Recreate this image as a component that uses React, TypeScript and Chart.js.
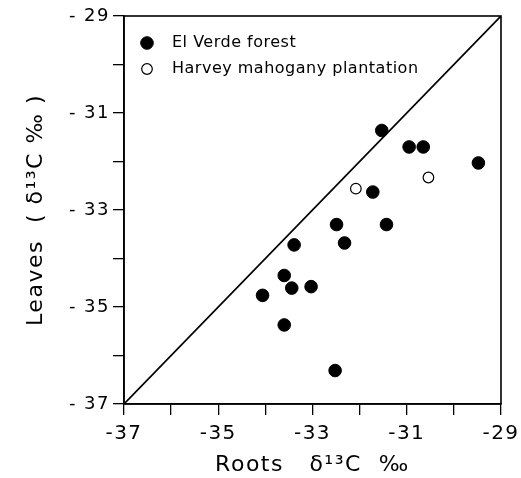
import React, { useEffect, useRef } from "react";
import { Chart, registerables } from "chart.js";
Chart.register(...registerables);

// El Verde forest (filled circles): roots vs leaves δ13C ‰
const elVerdeRoots = [-31.53, -30.95, -30.65, -29.48, -31.72, -32.49, -31.43, -33.39, -32.32, -33.6, -33.44, -33.03, -34.06, -33.6, -32.52];
const elVerdeLeaves = [-31.36, -31.7, -31.7, -32.03, -32.63, -33.3, -33.3, -33.72, -33.68, -34.35, -34.61, -34.58, -34.76, -35.37, -36.31];
// Harvey mahogany plantation (open circles)
const harveyRoots = [-32.08, -30.54];
const harveyLeaves = [-32.56, -32.33];
// 1:1 line
const oneToOne = [-37, -29];
// axes
const tickValues = [-37, -36, -35, -34, -33, -32, -31, -30, -29];
const labeledTicks = [-37, -35, -33, -31, -29];
const seriesLabels = ["El Verde forest", "Harvey mahogany plantation"];
const xTitle = "Roots   δ¹³C  ‰";
const yTitle = "Leaves  ( δ¹³C ‰ )";

const FONT = "'DejaVu Sans', sans-serif";

export default function App() {
  const ref = useRef<HTMLCanvasElement | null>(null);
  useEffect(() => {
    document.body.style.margin = "0";
    const canvas = ref.current!;
    const spacing = {
      id: "spacing",
      beforeDraw(chart: any) {
        (chart.ctx as any).letterSpacing = "1.5px";
      },
    };
    const frame = {
      id: "frame",
      afterDraw(chart: any) {
        const { ctx, chartArea: a } = chart;
        ctx.save();
        ctx.strokeStyle = "#000";
        ctx.lineWidth = 1.6;
        ctx.strokeRect(a.left, a.top, a.right - a.left, a.bottom - a.top);
        ctx.restore();
      },
    };
    const legend = {
      id: "customLegend",
      afterDraw(chart: any) {
        const { ctx, chartArea: a } = chart;
        ctx.save();
        (ctx as any).letterSpacing = "0.5px";
        ctx.font = `16px ${FONT}`;
        ctx.textBaseline = "middle";
        ctx.textAlign = "left";
        const ds = chart.data.datasets;
        [0, 1].forEach((i) => {
          const d = ds[i];
          const cx = a.left + 23;
          const cy = a.top + 27 + i * 26;
          ctx.beginPath();
          ctx.arc(cx, cy, d.pointRadius, 0, Math.PI * 2);
          ctx.fillStyle = d.pointBackgroundColor;
          ctx.fill();
          ctx.lineWidth = d.pointBorderWidth;
          ctx.strokeStyle = "#000";
          ctx.stroke();
          ctx.fillStyle = "#000";
          ctx.fillText(d.label, a.left + 48, cy);
        });
        ctx.restore();
      },
    };
    const chart = new Chart(canvas, {
      type: "scatter",
      data: {
        datasets: [
          {
            label: seriesLabels[0],
            data: elVerdeRoots.map((x, i) => ({ x, y: elVerdeLeaves[i] })),
            pointRadius: 6.3,
            pointBackgroundColor: "#000",
            pointBorderColor: "#000",
            pointBorderWidth: 1,
          },
          {
            label: seriesLabels[1],
            data: harveyRoots.map((x, i) => ({ x, y: harveyLeaves[i] })),
            pointRadius: 5.3,
            pointBackgroundColor: "#fff",
            pointBorderColor: "#000",
            pointBorderWidth: 1.2,
          },
          {
            label: "1:1",
            data: oneToOne.map((v) => ({ x: v, y: v })),
            showLine: true,
            pointRadius: 0,
            borderColor: "#000",
            borderWidth: 1.7,
          },
        ],
      } as any,
      options: {
        animation: false,
        responsive: false,
        devicePixelRatio: 1,
        layout: { padding: { top: 16, right: 20, left: 0, bottom: 0 } },
        plugins: { legend: { display: false }, tooltip: { enabled: false } },
        scales: {
          x: {
            type: "linear",
            min: -37,
            max: -29,
            afterBuildTicks: (s: any) => {
              s.ticks = tickValues.map((value) => ({ value }));
            },
            afterFit: (s: any) => {
              s.height = 74;
              s.paddingRight = 0;
              s.paddingLeft = 0;
            },
            grid: { drawOnChartArea: false, drawTicks: true, tickLength: 11, color: "#000", lineWidth: 1.3 },
            border: { display: true, color: "#000", width: 1.6 },
            ticks: {
              color: "#000",
              font: { family: FONT, size: 20 },
              padding: 7,
              maxRotation: 0,
              autoSkip: false,
              callback: (v: any) => (labeledTicks.includes(v) ? String(v) : ""),
            },
            title: { display: true, text: xTitle, color: "#000", font: { family: FONT, size: 22 }, padding: 0 },
          },
          y: {
            type: "linear",
            min: -37,
            max: -29,
            afterBuildTicks: (s: any) => {
              s.ticks = tickValues.map((value) => ({ value }));
            },
            afterFit: (s: any) => {
              s.width = 124;
              s.paddingTop = 0;
              s.paddingBottom = 0;
            },
            grid: { drawOnChartArea: false, drawTicks: true, tickLength: 11, color: "#000", lineWidth: 1.3 },
            border: { display: true, color: "#000", width: 1.6 },
            ticks: {
              color: "#000",
              font: { family: FONT, size: 18 },
              padding: 3,
              autoSkip: false,
              callback: (v: any) => (labeledTicks.includes(v) ? String(v).replace("-", "- ") : ""),
            },
            title: { display: true, text: yTitle, color: "#000", font: { family: FONT, size: 22 }, padding: 23 },
          },
        },
      } as any,
      plugins: [spacing, frame, legend],
    });
    return () => chart.destroy();
  }, []);
  return (
    <div style={{ position: "absolute", left: 0, top: 0, width: 521, height: 478 }}>
      <canvas ref={ref} width={521} height={478} style={{ display: "block", width: 521, height: 478 }} />
    </div>
  );
}
